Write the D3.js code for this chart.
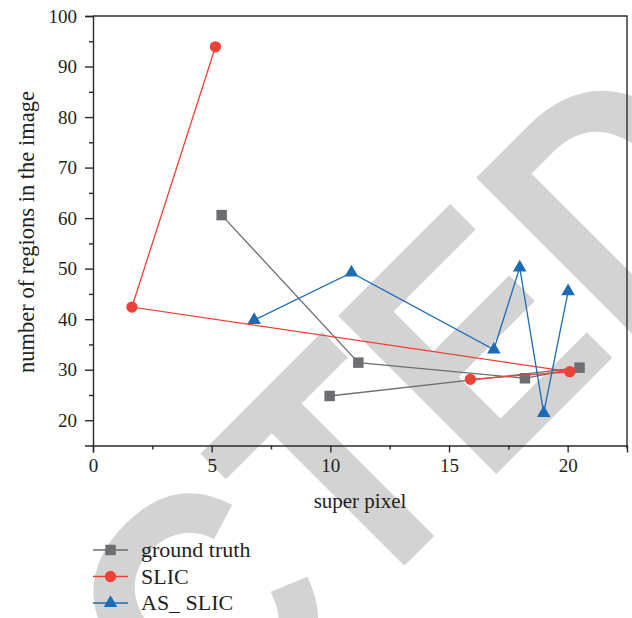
<!DOCTYPE html>
<html>
<head>
<meta charset="utf-8">
<script src="https://cdn.jsdelivr.net/npm/d3@7"></script>
<style>
  html, body { margin: 0; padding: 0; background: #fff; }
  svg { display: block; }
</style>
</head>
<body>
<svg id="chart"></svg>
<script>
// data
const groundTruthX = [5.42, 11.18, 18.2, 20.5, 9.97];
const groundTruthY = [60.6, 31.4, 28.3, 30.4, 24.8];
const slicX = [5.16, 1.64, 20.09, 15.9];
const slicY = [93.9, 42.4, 29.6, 28.1];
const asSlicX = [6.79, 10.89, 16.89, 17.98, 18.99, 20.02];
const asSlicY = [39.8, 49.2, 34.0, 50.2, 21.4, 45.5];
const seriesNames = ['ground truth', 'SLIC', 'AS_ SLIC'];
const xTicks = [0, 5, 10, 15, 20];
const yTicks = [20, 30, 40, 50, 60, 70, 80, 90, 100];

const width = 632, height = 618;
const svg = d3.select('#chart').attr('width', width).attr('height', height)
  .style('font-family', '"Liberation Serif", "Times New Roman", serif');

const x = d3.scaleLinear().domain([0, 22.5]).range([93, 627]);
const y = d3.scaleLinear().domain([15, 100]).range([445.5, 16]);

// retraction watermark, sits behind the plot (slightly condensed letters)
svg.append('text')
  .attr('transform', 'translate(-505.6,1475.8) rotate(-45) scale(0.9,1)')
  .attr('font-family', '"Liberation Sans", Arial, sans-serif')
  .attr('font-weight', 'bold')
  .attr('font-size', 325)
  .attr('fill', '#d3d3d3')
  .text('RETRACTED');

const series = [
  { name: seriesNames[0], xs: groundTruthX, ys: groundTruthY, color: '#6d6e71', shape: d3.symbolSquare, size: 110 },
  { name: seriesNames[1], xs: slicX, ys: slicY, color: '#ef4136', shape: d3.symbolCircle, size: 100 },
  { name: seriesNames[2], xs: asSlicX, ys: asSlicY, color: '#1c6bb5', shape: d3.symbolTriangle, size: 80 },
];

const axisColor = '#2b2b2b';

// axes
svg.append('g').attr('transform', `translate(0,${y(15)})`)
  .call(d3.axisBottom(x).tickValues(xTicks).tickSize(7).tickPadding(6).tickFormat(d3.format('d')));
svg.append('g').attr('transform', `translate(0,${y(15)})`)
  .call(d3.axisBottom(x).tickValues(d3.range(2.5, 22.5, 5)).tickSize(4).tickFormat(''))
  .select('.domain').remove();
svg.append('g').attr('transform', `translate(${x(0)},0)`)
  .call(d3.axisLeft(y).tickValues(yTicks).tickSize(8).tickPadding(8).tickFormat(d3.format('d')));
svg.append('g').attr('transform', `translate(${x(0)},0)`)
  .call(d3.axisLeft(y).tickValues(d3.range(25, 100, 10)).tickSize(4).tickFormat(''))
  .select('.domain').remove();

svg.selectAll('.tick text').attr('font-size', 19).attr('fill', '#231f20')
  .attr('font-family', '"Liberation Serif", serif');
svg.selectAll('.domain, .tick line').attr('stroke', axisColor).attr('stroke-width', 1.4);

// frame top and right
svg.append('path')
  .attr('d', `M${x(0)},${y(100)}H${x(22.5)}V${y(15) + 3}`)
  .attr('fill', 'none').attr('stroke', axisColor).attr('stroke-width', 1.4);

// axis titles
svg.append('text').attr('x', 360).attr('y', 508).attr('text-anchor', 'middle')
  .attr('font-size', 21).attr('fill', '#231f20').text('super pixel');
svg.append('text').attr('transform', 'translate(34,232) rotate(-90)').attr('text-anchor', 'middle')
  .attr('font-size', 22.5).attr('fill', '#231f20').text('number of regions in the image');

// series
const line = d3.line().x(d => x(d[0])).y(d => y(d[1]));
series.forEach(s => {
  const pts = s.xs.map((v, i) => [v, s.ys[i]]);
  svg.append('path').datum(pts).attr('d', line)
    .attr('fill', 'none').attr('stroke', s.color).attr('stroke-width', 1.3);
  svg.append('g').selectAll('path').data(pts).join('path')
    .attr('transform', d => `translate(${x(d[0])},${y(d[1])})`)
    .attr('d', d3.symbol(s.shape, s.size))
    .attr('fill', s.color);
});

// legend
const legend = svg.append('g').attr('transform', 'translate(93,550)');
series.forEach((s, i) => {
  const g = legend.append('g').attr('transform', `translate(0,${i * 26.5})`);
  g.append('line').attr('x1', 0).attr('x2', 35).attr('stroke', s.color).attr('stroke-width', 1.3);
  g.append('path').attr('transform', 'translate(17.5,0)').attr('d', d3.symbol(s.shape, s.size)).attr('fill', s.color);
  g.append('text').attr('x', 48).attr('y', 7).attr('font-size', 22).attr('fill', '#231f20').text(s.name);
});
</script>
</body>
</html>
